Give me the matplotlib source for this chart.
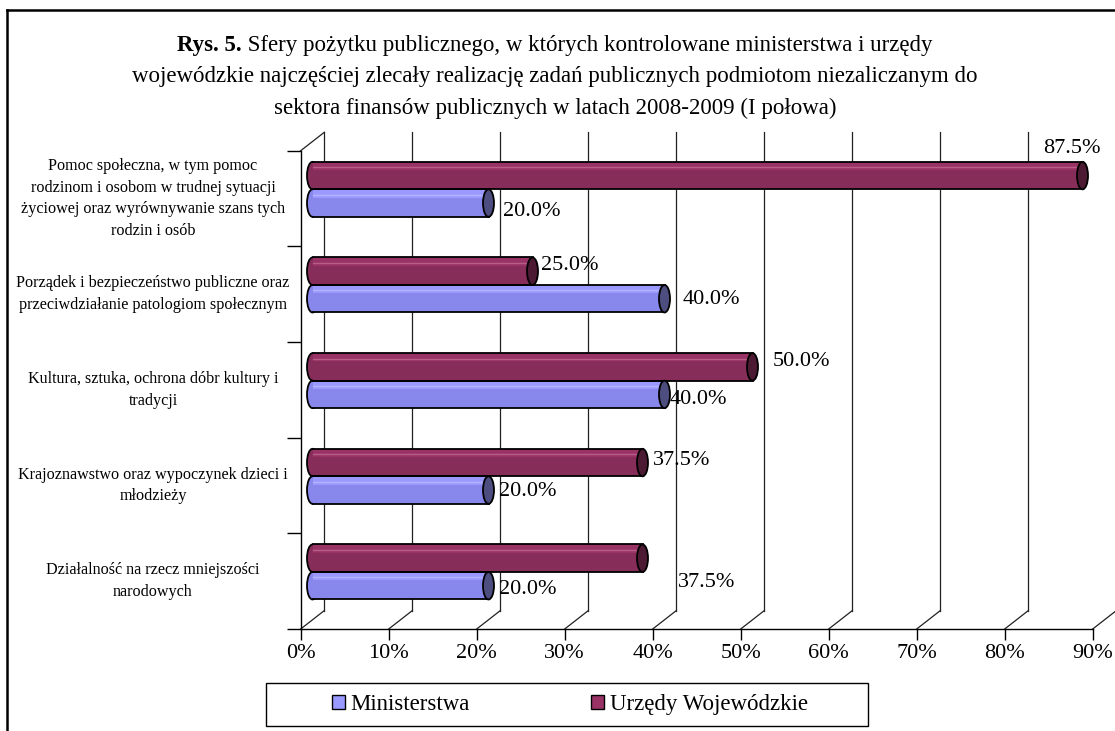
"""
    Rys. 5 - sfery pożytku publicznego (wykres walcowy 3D, poziomy)
"""
import matplotlib
matplotlib.use("Agg")
import matplotlib.pyplot as plt
from matplotlib.patches import Ellipse, Patch, Rectangle
from matplotlib.lines import Line2D
import matplotlib.transforms as mtransforms

plt.rcParams['font.family'] = ['Liberation Serif', 'DejaVu Serif']

# Dane
categories = [
    "Pomoc społeczna, w tym pomoc\nrodzinom i osobom w trudnej sytuacji\n"
    "życiowej oraz wyrównywanie szans tych\nrodzin i osób",
    "Porządek i bezpieczeństwo publiczne oraz\nprzeciwdziałanie patologiom społecznym",
    "Kultura, sztuka, ochrona dóbr kultury i\ntradycji",
    "Krajoznawstwo oraz wypoczynek dzieci i\nmłodzieży",
    "Działalność na rzecz mniejszości\nnarodowych",
]
ministerstwa = [20.0, 40.0, 40.0, 20.0, 20.0]
urzedy = [87.5, 25.0, 50.0, 37.5, 37.5]
series_names = ["Ministerstwa", "Urzędy Wojewódzkie"]
x_ticks = [0, 10, 20, 30, 40, 50, 60, 70, 80, 90]

# Przesunięcie etykiet danych (px): (dx od końca walca do lewej krawędzi tekstu, dy w dół)
label_off_min = [(14, 8), (18, 1), (5, 5), (11, 1), (11, 4)]
label_off_urz = [(-39, -27), (9, -6), (20, -5), (10, -2), (35, 24)]

BLUE = "#9999FF"
BLUE_DARK = "#8787EC"
BLUE_HI = "#B4B4FF"
BLUE_CAP = "#4D4D80"
MAG = "#993366"
MAG_DARK = "#872D5A"
MAG_HI = "#B85C88"
MAG_CAP = "#4D1A33"

W, H = 1115, 731
fig = plt.figure(figsize=(W / 100, H / 100), dpi=100)
fig.patch.set_facecolor("white")

# Ramka rysunku
fig.add_artist(Line2D([7 / W, 1.0], [1 - 10 / H, 1 - 10 / H], color="black", lw=1.8,
                      transform=fig.transFigure))
fig.add_artist(Line2D([7 / W, 7 / W], [0, 1 - 10 / H], color="black", lw=1.8,
                      transform=fig.transFigure))

# Przednia płaszczyzna wykresu
x0, x1 = 300.7, 1092.7
y_top, y_bot = 150.7, 629.0
ax = fig.add_axes([x0 / W, 1 - y_bot / H, (x1 - x0) / W, (y_bot - y_top) / H])
ax.set_xlim(0, 90)
ax.set_ylim(5, 0)
ax.patch.set_alpha(0)
for s in ["top", "right"]:
    ax.spines[s].set_visible(False)
ax.spines["left"].set_linewidth(1.0)
ax.spines["bottom"].set_linewidth(1.0)

px_per_x = (x1 - x0) / 90.0
px_per_y = (y_bot - y_top) / 5.0
depth_x = 23.6 / px_per_x
depth_y = 18.4 / px_per_y

# Siatka na tylnej ścianie i przekątne podłogi
lc = "#202020"
for t in x_ticks:
    ax.plot([t + depth_x, t + depth_x], [5 - depth_y, -depth_y], color=lc, lw=0.9,
            clip_on=False, zorder=1)
    ax.plot([t, t + depth_x], [5, 5 - depth_y], color=lc, lw=0.9, clip_on=False, zorder=1)
ax.plot([0, depth_x], [0, -depth_y], color=lc, lw=0.9, clip_on=False, zorder=1)

ax.set_xticks(x_ticks)
ax.set_xticklabels([f"{t}%" for t in x_ticks], fontsize=16)
ax.tick_params(axis="x", length=8, width=1.0, pad=3)
ax.set_yticks(range(6))
ax.set_yticklabels([])
ax.tick_params(axis="y", length=10, width=1.0)

# Walce
bar_h = 0.2875
mid_dx = depth_x / 2
mid_dy = depth_y / 2
cap_w = 11.0 / px_per_x


def cylinder(yc, value, base, dark, hi, cap):
    yt = yc - bar_h / 2
    # lewy koniec walca
    ax.add_patch(Ellipse((mid_dx, yc), cap_w, bar_h, facecolor=dark, edgecolor="black",
                         lw=1.3, clip_on=False, zorder=3))
    # korpus: jasna góra, ciemniejszy dół, linia odblasku
    ax.barh(yt + bar_h * 0.35 / 2, value, height=bar_h * 0.35, left=mid_dx,
            color=base, lw=0, clip_on=False, zorder=4)
    ax.barh(yc + bar_h * 0.15, value, height=bar_h * 0.7, left=mid_dx,
            color=dark, lw=0, clip_on=False, zorder=4)
    ax.plot([mid_dx, mid_dx + value], [yt + bar_h * 0.2] * 2, color=hi, lw=1.0,
            clip_on=False, zorder=5)
    ax.plot([mid_dx, mid_dx + value], [yt] * 2, color="black", lw=1.3,
            clip_on=False, zorder=5)
    ax.plot([mid_dx, mid_dx + value], [yt + bar_h] * 2, color="black", lw=1.3,
            clip_on=False, zorder=5)
    # prawa podstawa walca
    ax.add_patch(Ellipse((mid_dx + value, yc), cap_w, bar_h, facecolor=cap,
                         edgecolor="black", lw=1.3, clip_on=False, zorder=6))


for i in range(len(categories)):
    yc = i + 0.5 - mid_dy
    y_u = yc - bar_h / 2
    y_m = yc + bar_h / 2
    cylinder(y_u, urzedy[i], MAG, MAG_DARK, MAG_HI, MAG_CAP)
    cylinder(y_m, ministerstwa[i], BLUE, BLUE_DARK, BLUE_HI, BLUE_CAP)

    for val, yy, off in [(urzedy[i], y_u, label_off_urz[i]),
                         (ministerstwa[i], y_m, label_off_min[i])]:
        tr = mtransforms.offset_copy(ax.transData, fig=fig, x=off[0], y=-off[1],
                                     units="dots")
        ax.text(val + mid_dx, yy, f"{val:.1f}%", fontsize=16, ha="left", va="center",
                transform=tr, zorder=8)

# Etykiety kategorii
lbl_tr = mtransforms.blended_transform_factory(fig.transFigure, ax.transData)
for i, c in enumerate(categories):
    ax.text(153 / W, i + 0.5, c, transform=lbl_tr, fontsize=11.6, ha="center",
            va="center", multialignment="center", linespacing=1.45)

# Tytuł (pierwsza linia: pogrubiony "Rys. 5." + zwykły tekst)
title_bold = "Rys. 5."
title_lines = [
    " Sfery pożytku publicznego, w których kontrolowane ministerstwa i urzędy",
    "wojewódzkie najczęściej zlecały realizację zadań publicznych podmiotom niezaliczanym do",
    "sektora finansów publicznych w latach 2008-2009 (I połowa)",
]
title_fs = 16.5
renderer = fig.canvas.get_renderer()
t_b = fig.text(0, 0, title_bold, fontsize=title_fs, fontweight="bold")
t_r = fig.text(0, 0, title_lines[0], fontsize=title_fs)
wb = t_b.get_window_extent(renderer).width
wr = t_r.get_window_extent(renderer).width
x_start = 555 - (wb + wr) / 2
y1 = 1 - 45 / H
t_b.set_position((x_start / W, y1))
t_b.set_va("center")
t_r.set_position(((x_start + wb) / W, y1))
t_r.set_va("center")
for k, line in enumerate(title_lines[1:], start=1):
    fig.text(555 / W, 1 - (45 + 31.5 * k) / H, line, fontsize=title_fs, ha="center",
             va="center")

# Legenda
fig.add_artist(Rectangle((266 / W, 1 - 726 / H), 602 / W, 43 / H, fill=False,
                         edgecolor="black", lw=1.0, transform=fig.transFigure))
handles = [Patch(facecolor=BLUE, edgecolor="black", lw=1.0),
           Patch(facecolor=MAG, edgecolor="black", lw=1.0)]
fig.legend(handles, series_names, loc="center", bbox_to_anchor=(570 / W, 1 - 704.5 / H),
           ncol=2, frameon=False, prop={"family": "Liberation Serif", "size": 16.5},
           handlelength=0.55, handleheight=0.55, handletextpad=0.25, columnspacing=5.3)

fig.savefig("out.png", dpi=100)
